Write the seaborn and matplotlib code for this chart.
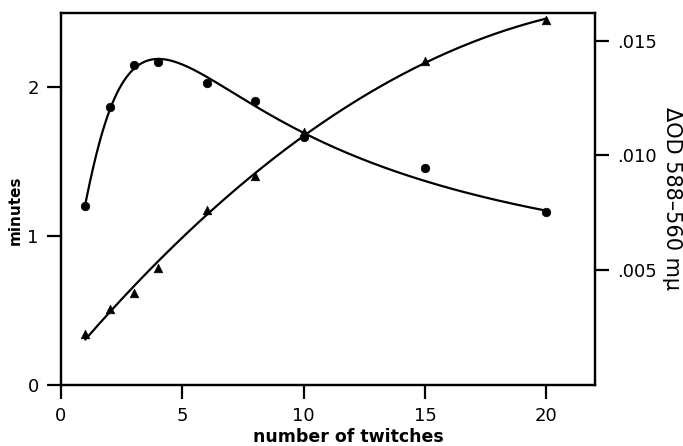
import numpy as np
import pandas as pd
import matplotlib
matplotlib.use("Agg")
import matplotlib.pyplot as plt
import seaborn as sns

# Measurements: recovery time (minutes) and absorbance change vs. number of twitches
twitches = [1, 2, 3, 4, 6, 8, 10, 15, 20]
minutes = [1.20, 1.87, 2.15, 2.17, 2.03, 1.91, 1.67, 1.46, 1.16]
delta_od = [0.0022, 0.0033, 0.0040, 0.0051, 0.0076, 0.0091, 0.0110, 0.0141, 0.0159]
# relative weight of each point in the smoothed minutes curve
minutes_weight = [1, 1, 1, 1, 1, 1, 1, 0.3, 1]

x_ticks = [0, 5, 10, 15, 20]
left_ticks = [0, 1, 2]
right_ticks = [0.005, 0.010, 0.015]
right_ticklabels = [".005", ".010", ".015"]

sns.set_theme(style="ticks")
plt.rcParams["font.family"] = ["DejaVu Sans"]
plt.rcParams["text.color"] = "black"
plt.rcParams["axes.labelcolor"] = "black"

df = pd.DataFrame({"twitches": twitches, "minutes": minutes, "delta_od": delta_od})

xs = np.linspace(min(twitches), max(twitches), 400)
xd = np.asarray(twitches, dtype=float)


def minutes_basis(x):
    return np.column_stack([np.ones_like(x), x, np.log(x), np.exp(-x / 1.5)])


# Weighted least-squares trend for minutes, quadratic trend for the absorbance
A = minutes_basis(xd)
W = np.diag(minutes_weight)
coef = np.linalg.solve(A.T @ W @ A, A.T @ W @ np.asarray(minutes))
fit_min = minutes_basis(xs) @ coef
fit_od = np.polyval(np.polyfit(xd, delta_od, 2), xs)
curves = pd.DataFrame({"x": xs, "min_fit": fit_min, "od_fit": fit_od})

fig = plt.figure(figsize=(6.83, 4.46), dpi=100)
ax = fig.add_axes([61 / 683, 1 - 385 / 446, (595 - 61) / 683, (385 - 13) / 446])
ax2 = ax.twinx()

lw = 1.6
sns.lineplot(data=curves, x="x", y="min_fit", ax=ax, color="black", lw=lw)
sns.scatterplot(data=df, x="twitches", y="minutes", ax=ax, color="black",
                marker="o", s=38, edgecolor="black", zorder=3)
sns.lineplot(data=curves, x="x", y="od_fit", ax=ax2, color="black", lw=lw)
sns.scatterplot(data=df, x="twitches", y="delta_od", ax=ax2, color="black",
                marker="^", s=38, edgecolor="black", zorder=3)

ax.set_xlim(0, 22)
ax.set_ylim(0, 2.5)
ax2.set_ylim(0, 0.0162)

ax.set_xticks(x_ticks)
ax.set_yticks(left_ticks)
ax2.set_yticks(right_ticks)
ax2.set_yticklabels(right_ticklabels)

for a in (ax, ax2):
    for sp in a.spines.values():
        sp.set_visible(True)
        sp.set_linewidth(1.6)
        sp.set_color("black")
    a.tick_params(axis="both", direction="out", length=10, width=1.6,
                  labelsize=13, colors="black", pad=6)

ax.set_xlabel("number of twitches", fontsize=12.5, fontweight="bold", color="black")
ax.xaxis.set_label_coords((348 - 61) / 534, -0.115)
ax.set_ylabel("minutes", fontsize=11, fontweight="bold", color="black")
ax.yaxis.set_label_coords(-0.072, 0.47)
ax2.set_ylabel("ΔOD 588–560 mμ", fontsize=15, rotation=270, color="black")
ax2.yaxis.set_label_coords(1.162, 0.5)

fig.savefig("out.png", dpi=100, facecolor="white")
